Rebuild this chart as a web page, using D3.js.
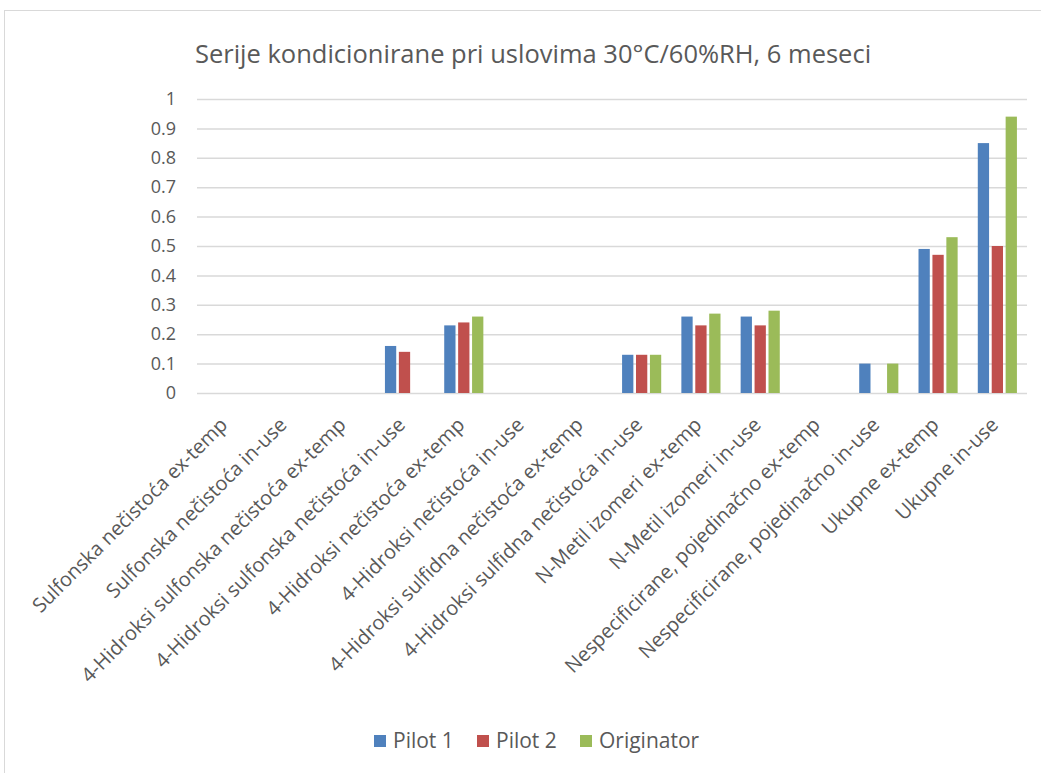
<!DOCTYPE html>
<html>
<head>
<meta charset="utf-8">
<script src="https://cdnjs.cloudflare.com/ajax/libs/d3/7.8.5/d3.min.js"></script>
<style>
  body { margin: 0; background: #fff; }
  svg { display: block; font-family: "Open Sans", sans-serif; }
</style>
</head>
<body>
<div id="chart"></div>
<script>
// data
var categories = [
    "Sulfonska nečistoća ex-temp",
    "Sulfonska nečistoća in-use",
    "4-Hidroksi sulfonska nečistoća ex-temp",
    "4-Hidroksi sulfonska nečistoća in-use",
    "4-Hidroksi nečistoća ex-temp",
    "4-Hidroksi nečistoća in-use",
    "4-Hidroksi sulfidna nečistoća ex-temp",
    "4-Hidroksi sulfidna nečistoća in-use",
    "N-Metil izomeri ex-temp",
    "N-Metil izomeri in-use",
    "Nespecificirane, pojedinačno ex-temp",
    "Nespecificirane, pojedinačno in-use",
    "Ukupne ex-temp",
    "Ukupne in-use"
];
var seriesNames = ["Pilot 1", "Pilot 2", "Originator"];
var pilot1 = [0, 0, 0, 0.16, 0.23, 0, 0, 0.13, 0.26, 0.26, 0, 0.10, 0.49, 0.85];
var pilot2 = [0, 0, 0, 0.14, 0.24, 0, 0, 0.13, 0.23, 0.23, 0, 0, 0.47, 0.50];
var originator = [0, 0, 0, 0, 0.26, 0, 0, 0.13, 0.27, 0.28, 0, 0.10, 0.53, 0.94];
var yTicks = [0, 0.1, 0.2, 0.3, 0.4, 0.5, 0.6, 0.7, 0.8, 0.9, 1];
var colors = ["#4f81bd", "#c0504d", "#9bbb59"];

var totalWidth = 1041, totalHeight = 773;
var margin = { top: 99, right: 14, bottom: 380, left: 197 },
    width = totalWidth - margin.left - margin.right,
    height = totalHeight - margin.top - margin.bottom;

var seriesValues = [pilot1, pilot2, originator];
var table = categories.map(function (c, i) {
    return { name: c, values: seriesNames.map(function (s, j) { return { key: s, idx: j, value: seriesValues[j][i] }; }) };
});

var svg = d3.select("#chart")
    .append("svg")
    .attr("width", totalWidth)
    .attr("height", totalHeight);

// chart border
svg.append("rect")
    .attr("x", 4.5).attr("y", 10.5)
    .attr("width", 1100).attr("height", 900)
    .attr("fill", "none")
    .attr("stroke", "#d9d9d9")
    .attr("stroke-width", 1);

// title
svg.append("text")
    .attr("x", 533)
    .attr("y", 63)
    .attr("text-anchor", "middle")
    .attr("font-size", "25.5px")
    .attr("fill", "#595959")
    .text("Serije kondicionirane pri uslovima 30°C/60%RH, 6 meseci");

var g = svg.append("g")
    .attr("transform", "translate(" + margin.left + "," + margin.top + ")");

var y = d3.scaleLinear()
    .domain([0, 1])
    .range([height, 0]);

var x0 = d3.scaleBand()
    .domain(categories)
    .range([0, width])
    .paddingInner(0.34)
    .paddingOuter(0.17);

var x1 = d3.scaleBand()
    .domain(seriesNames)
    .range([0, x0.bandwidth()])
    .paddingInner(0.19);

// gridlines + y labels
var yAxis = g.append("g")
    .call(d3.axisLeft(y).tickValues(yTicks).tickSize(-width).tickFormat(function (d) { return d3.format("")(d); }));
yAxis.select(".domain").remove();
yAxis.selectAll("line")
    .attr("stroke", "#d9d9d9")
    .attr("stroke-width", 1.5);
yAxis.selectAll("text")
    .attr("x", -21)
    .attr("font-size", "18px")
    .attr("font-family", "'Open Sans', sans-serif")
    .attr("fill", "#595959");

// bars
var groups = g.selectAll(".cat")
    .data(table)
    .enter()
    .append("g")
    .attr("transform", function (d) { return "translate(" + x0(d.name) + ",0)"; });

groups.selectAll("rect")
    .data(function (d) { return d.values; })
    .enter()
    .append("rect")
    .attr("x", function (d) { return x1(d.key); })
    .attr("y", function (d) { return y(d.value); })
    .attr("width", x1.bandwidth())
    .attr("height", function (d) { return height - y(d.value); })
    .attr("fill", function (d) { return colors[d.idx]; });

// rotated category labels
g.selectAll(".xlab")
    .data(categories)
    .enter()
    .append("text")
    .attr("transform", function (d) {
        var cx = x0(d) + x0.bandwidth() / 2 + 2;
        return "translate(" + cx + "," + (height + 33) + ")rotate(-45)";
    })
    .attr("text-anchor", "end")
    .attr("font-size", "20px")
    .attr("fill", "#595959")
    .text(function (d) { return d; });

// legend
var legendX = [374, 477, 580];
var legend = svg.selectAll(".leg")
    .data(seriesNames)
    .enter()
    .append("g")
    .attr("transform", function (d, i) { return "translate(" + legendX[i] + ",735)"; });
legend.append("rect")
    .attr("width", 12).attr("height", 12)
    .attr("fill", function (d, i) { return colors[i]; });
legend.append("text")
    .attr("x", 19)
    .attr("y", 13)
    .attr("font-size", "21px")
    .attr("fill", "#595959")
    .text(function (d) { return d; });
</script>
</body>
</html>
